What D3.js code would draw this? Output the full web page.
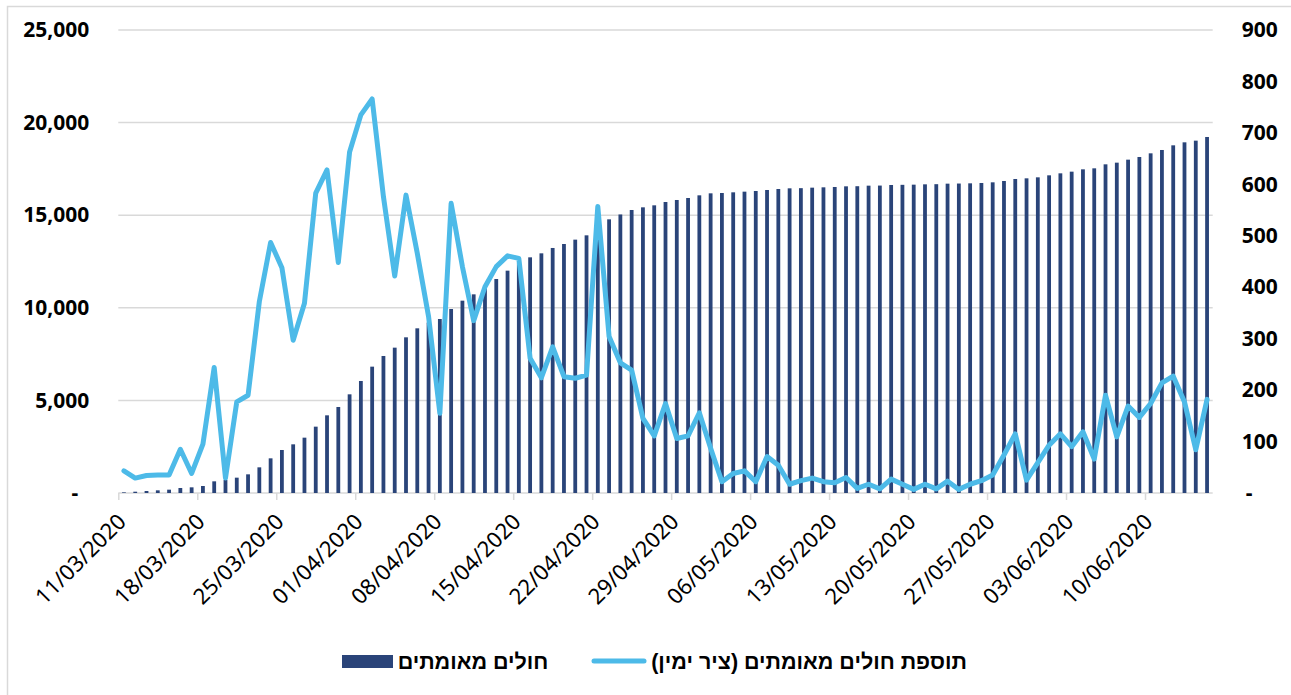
<!DOCTYPE html>
<html>
<head>
<meta charset="utf-8">
<script src="https://cdn.jsdelivr.net/npm/d3@7"></script>
<style>
  body { margin: 0; background: #fff; }
  svg { display: block; }
  .axis text { font-family: "Noto Sans", sans-serif; font-weight: bold; font-size: 21px; fill: #000; }
  .axis path, .axis line { stroke: none; }
  .xaxis text { font-family: "Noto Sans", sans-serif; font-size: 22px; fill: #000; }
  .legend text { font-family: "Liberation Sans", "Noto Sans", sans-serif; font-weight: bold; font-size: 21.5px; fill: #000; }
</style>
</head>
<body>
<div class="chart"></div>
<script>
// daily series starts 11/03/2020, one value per day up to 15/06/2020
let startDate = new Date(2020, 2, 11);

// cumulative confirmed cases (left axis)
let cumulative = [
  35, 70, 108, 144, 180, 270, 306, 378, 630, 702,
  828, 1008, 1386, 1872, 2322, 2628, 2988, 3582, 4194, 4644,
  5328, 6048, 6822, 7398, 7848, 8406, 8892, 9200, 9395, 9935,
  10385, 10727, 11150, 11555, 12005, 12400, 12725, 12941, 13230, 13445,
  13680, 13913, 14400, 14777, 15040, 15281, 15425, 15533, 15713, 15821,
  15929, 16073, 16181, 16199, 16235, 16271, 16307, 16361, 16415, 16451,
  16460, 16487, 16505, 16523, 16559, 16565, 16595, 16600, 16631, 16640,
  16649, 16667, 16675, 16703, 16710, 16721, 16739, 16775, 16847, 16955,
  16991, 17045, 17153, 17261, 17351, 17477, 17531, 17747, 17837, 17999,
  18143, 18341, 18521, 18773, 18935, 19025, 19223
];

// new confirmed cases per day (right axis)
let daily = [
  43, 29, 34, 35, 35, 85, 38, 95, 244, 29,
  177, 190, 372, 487, 438, 297, 369, 583, 628, 448,
  663, 735, 766, 576, 422, 579, 466, 343, 155, 563,
  440, 335, 401, 440, 461, 456, 262, 224, 284, 226,
  223, 229, 557, 304, 253, 239, 145, 111, 174, 106,
  111, 156, 87, 22, 38, 43, 22, 71, 54, 17,
  24, 29, 22, 20, 30, 9, 17, 8, 27, 17,
  7, 17, 8, 23, 7, 17, 24, 35, 74, 115,
  25, 59, 93, 115, 90, 119, 66, 190, 109, 169,
  147, 174, 214, 227, 177, 84, 182
];

let leftTicks = [0, 5000, 10000, 15000, 20000, 25000];
let rightTicks = [0, 100, 200, 300, 400, 500, 600, 700, 800, 900];
let dateTicks = ["11/03/2020", "18/03/2020", "25/03/2020", "01/04/2020", "08/04/2020",
  "15/04/2020", "22/04/2020", "29/04/2020", "06/05/2020", "13/05/2020",
  "20/05/2020", "27/05/2020", "03/06/2020", "10/06/2020"];

let legendBars = "חולים מאומתים";
let legendLine = "תוספת חולים מאומתים (ציר ימין)";

let width = 1291, height = 695;
let plotLeft = 118.3, plotRight = 1212.7, plotTop = 30, plotBottom = 493;

let days = d3.timeDay.range(startDate, d3.timeDay.offset(startDate, daily.length));
let parseDay = d3.timeParse("%d/%m/%Y");

let svg = d3.select(".chart")
  .append("svg")
  .attr("width", width)
  .attr("height", height);

// outer frame
svg.append("rect")
  .attr("x", 7.5).attr("y", 6.5)
  .attr("width", 1300).attr("height", 700)
  .attr("fill", "none")
  .attr("stroke", "#d9d9d9")
  .attr("stroke-width", 1.5);

let xScale = d3.scaleTime()
  .domain([startDate, d3.timeDay.offset(startDate, daily.length)])
  .range([plotLeft, plotRight]);
let dayWidth = (plotRight - plotLeft) / daily.length;

let yLeft = d3.scaleLinear().domain([0, 25000]).range([plotBottom, plotTop]);
let yRight = d3.scaleLinear().domain([0, 900]).range([plotBottom, plotTop]);

// gridlines
svg.append("g")
  .selectAll("line")
  .data(leftTicks.slice(1))
  .enter()
  .append("line")
  .attr("x1", plotLeft).attr("x2", plotRight)
  .attr("y1", d => yLeft(d)).attr("y2", d => yLeft(d))
  .attr("stroke", "#d9d9d9")
  .attr("stroke-width", 1.5);

// x axis line and ticks
let xAxis = d3.axisBottom(xScale)
  .tickValues(dateTicks.map(parseDay))
  .tickSize(7)
  .tickFormat("");
let gx = svg.append("g")
  .attr("transform", "translate(0," + plotBottom + ")")
  .call(xAxis);
gx.select(".domain").attr("stroke", "#d9d9d9").attr("stroke-width", 1.5).attr("d", "M" + plotLeft + ",0H" + plotRight);
gx.selectAll(".tick line").attr("stroke", "#d9d9d9").attr("stroke-width", 1.5);

svg.append("g")
  .attr("class", "xaxis")
  .selectAll("text")
  .data(dateTicks)
  .enter()
  .append("text")
  .attr("text-anchor", "end")
  .attr("transform", d => "translate(" + (xScale(parseDay(d)) + 9) + "," + (plotBottom + 30) + ") rotate(-45)")
  .text(d => d);

// bars
let barW = 3.8;
svg.append("g")
  .selectAll("rect")
  .data(cumulative)
  .enter()
  .append("rect")
  .attr("x", (d, i) => xScale(days[i]) + dayWidth / 2 - barW / 2)
  .attr("y", d => yLeft(d))
  .attr("width", barW)
  .attr("height", d => plotBottom - yLeft(d))
  .attr("fill", "#2a4479");

// line
let line = d3.line()
  .x((d, i) => xScale(days[i]) + dayWidth / 2)
  .y(d => yRight(d));

svg.append("path")
  .datum(daily)
  .attr("d", line)
  .attr("fill", "none")
  .attr("stroke", "#4dbae8")
  .attr("stroke-width", 5)
  .attr("stroke-linejoin", "round")
  .attr("stroke-linecap", "round");

// left axis
let fmt = d3.format(",");
svg.append("g")
  .attr("class", "axis")
  .attr("transform", "translate(" + plotLeft + ",0)")
  .call(d3.axisLeft(yLeft).tickValues(leftTicks).tickSize(0).tickPadding(29)
    .tickFormat(d => d === 0 ? "-" : fmt(d)))
  .selectAll("text")
  .attr("dx", d => d === 0 ? -11 : 0);

// right axis
svg.append("g")
  .attr("class", "axis")
  .attr("transform", "translate(" + plotRight + ",0)")
  .call(d3.axisRight(yRight).tickValues(rightTicks).tickSize(0).tickPadding(29)
    .tickFormat(d => d === 0 ? "-" : d))
  .selectAll("text")
  .attr("dx", d => d === 0 ? 4 : 0);

// legend
let legend = svg.append("g").attr("class", "legend");
legend.append("rect")
  .attr("x", 342).attr("y", 655)
  .attr("width", 51).attr("height", 13)
  .attr("fill", "#2a4479");
legend.append("text")
  .attr("x", 473).attr("y", 669)
  .attr("text-anchor", "middle")
  .attr("direction", "rtl")
  .text(legendBars);
legend.append("line")
  .attr("x1", 594).attr("x2", 644)
  .attr("y1", 661).attr("y2", 661)
  .attr("stroke", "#4dbae8")
  .attr("stroke-width", 5)
  .attr("stroke-linecap", "round");
legend.append("text")
  .attr("x", 809).attr("y", 669)
  .attr("text-anchor", "middle")
  .attr("direction", "rtl")
  .text(legendLine);
</script>
</body>
</html>
